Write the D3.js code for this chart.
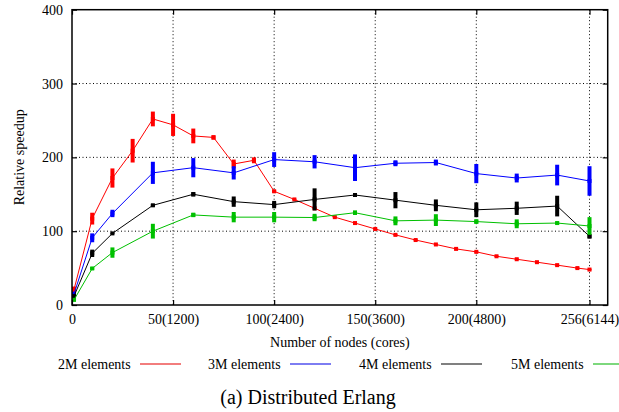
<!DOCTYPE html>
<html>
<head>
<meta charset="utf-8">
<script src="https://cdn.jsdelivr.net/npm/d3@7/dist/d3.min.js"></script>
<style>
  body { margin: 0; background: #fff; }
</style>
</head>
<body>
<svg width="619" height="412"></svg>
<script>

// nodes measured for 3M/4M/5M, 2M was measured every 10 nodes
const nodes = [1, 10, 20, 40, 60, 80, 100, 120, 140, 160, 180, 200, 220, 240, 256];
const nodes2M = [1, 10, 20, 30, 40, 50, 60, 70, 80, 90, 100, 110, 120, 130, 140, 150,
                 160, 170, 180, 190, 200, 210, 220, 230, 240, 250, 256];

const speedup2M = [21, 117, 172, 209, 252, 244, 229, 227, 191, 196, 154, 143, 131, 119, 111, 103,
                   95, 88, 82, 76, 72, 66, 62, 58, 54, 50, 48];
const err2M     = [4, 8, 13, 16, 10, 15, 10, 3, 6, 4, 2, 1, 1, 1, 1, 1,
                   1, 1, 1, 1, 1, 1, 1, 1, 1, 1, 1];

const speedup3M = [15, 91, 124, 179, 186, 179, 197, 194, 186, 192, 193, 178, 172, 176, 168];
const err3M     = [3, 6, 5, 15, 13, 9, 10, 9, 18, 4, 4, 13, 6, 14, 20];

const speedup4M = [12, 70, 97, 135, 150, 140, 136, 143, 149, 142, 135, 129, 131, 134, 93];
const err4M     = [2, 5, 1, 2, 3, 7, 5, 15, 2, 11, 8, 10, 9, 14, 3];

const speedup5M = [7, 49.5, 71, 100, 122, 119, 119, 118.5, 125, 114, 115, 113, 110, 111, 107];
const err5M     = [2, 2, 7, 10, 3, 7, 7, 5, 3, 6, 8, 3, 6, 2, 12];

const xTicks = [0, 50, 100, 150, 200, 256];
const xTickLabels = ['0', '50(1200)', '100(2400)', '150(3600)', '200(4800)', '256(6144)'];
const yTicks = [0, 100, 200, 300, 400];

const seriesNames = ['2M elements', '3M elements', '4M elements', '5M elements'];
const colors = ['#ff0000', '#0000ff', '#000000', '#00c000'];
const legendColors = ['#f27d7d', '#7d7df2', '#808080', '#7dd87d'];

const series = [
    {x: nodes2M, y: speedup2M, e: err2M},
    {x: nodes, y: speedup3M, e: err3M},
    {x: nodes, y: speedup4M, e: err4M},
    {x: nodes, y: speedup5M, e: err5M}
].map((s, i) => ({
    name: seriesNames[i],
    color: colors[i],
    points: s.x.map((n, j) => ({n: n, v: s.y[j], e: s.e[j]}))
}));

const svg = d3.select('svg');
const serif = "'Liberation Serif', 'DejaVu Serif', 'Times New Roman', Times, serif";

const plotLeft = 72, plotRight = 607.7, plotTop = 9.7, plotBottom = 305;

const x = d3.scaleLinear().domain([0, 265]).range([plotLeft, plotRight]);
const y = d3.scaleLinear().domain([0, 400]).range([plotBottom, plotTop]);

// dotted grid
svg.append('g')
    .selectAll('line')
    .data(xTicks.filter(d => d > 0))
    .enter()
    .append('line')
        .attr('x1', d => x(d)).attr('x2', d => x(d))
        .attr('y1', plotTop).attr('y2', plotBottom)
        .attr('stroke', '#000')
        .attr('stroke-width', 1)
        .attr('stroke-dasharray', '1,2.5');

svg.append('g')
    .selectAll('line')
    .data(yTicks.filter(d => d > 0 && d < 400))
    .enter()
    .append('line')
        .attr('x1', plotLeft).attr('x2', plotRight)
        .attr('y1', d => y(d)).attr('y2', d => y(d))
        .attr('stroke', '#000')
        .attr('stroke-width', 1)
        .attr('stroke-dasharray', '1,2.5');

// lines
const line = d3.line()
    .x(d => x(d.n))
    .y(d => y(d.v));

const groups = svg.selectAll('g.series')
    .data(series)
    .enter()
    .append('g')
        .attr('class', 'series');

groups.append('path')
    .attr('d', d => line(d.points))
    .attr('fill', 'none')
    .attr('stroke', d => d.color)
    .attr('stroke-width', 1);

// error bars + point markers
groups.each(function(s) {
    const g = d3.select(this);
    g.selectAll('line.err')
        .data(s.points)
        .enter()
        .append('line')
            .attr('class', 'err')
            .attr('x1', d => x(d.n)).attr('x2', d => x(d.n))
            .attr('y1', d => y(d.v - d.e)).attr('y2', d => y(d.v + d.e))
            .attr('stroke', s.color)
            .attr('stroke-width', 4);

    g.selectAll('rect')
        .data(s.points)
        .enter()
        .append('rect')
            .attr('x', d => x(d.n) - 2)
            .attr('y', d => y(d.v) - 2)
            .attr('width', 4)
            .attr('height', 4)
            .attr('fill', s.color);
});

// axes, ticks pointing inward
const xAxis = d3.axisBottom(x)
    .tickValues(xTicks)
    .tickFormat((d, i) => xTickLabels[i])
    .tickSizeInner(-5)
    .tickSizeOuter(0)
    .tickPadding(9);

const yAxis = d3.axisLeft(y)
    .tickValues(yTicks)
    .tickSizeInner(-5)
    .tickSizeOuter(0)
    .tickPadding(9);

svg.append('g')
    .attr('transform', `translate(0,${plotBottom})`)
    .call(xAxis);

svg.append('g')
    .attr('transform', `translate(${plotLeft},0)`)
    .call(yAxis);

// mirrored ticks at top and right
svg.append('g')
    .attr('transform', `translate(0,${plotTop})`)
    .call(d3.axisTop(x).tickValues(xTicks).tickSizeInner(-5).tickSizeOuter(0).tickFormat(''));
svg.append('g')
    .attr('transform', `translate(${plotRight},0)`)
    .call(d3.axisRight(y).tickValues(yTicks).tickSizeInner(-5).tickSizeOuter(0).tickFormat(''));

svg.selectAll('.domain').remove();
svg.selectAll('g').attr('font-family', serif);
svg.selectAll('.tick line').attr('stroke', '#000').attr('stroke-width', 1.2);
svg.selectAll('.tick text')
    .style('font-family', serif)
    .attr('font-size', 14)
    .attr('fill', '#000');

// frame
svg.append('rect')
    .attr('x', plotLeft).attr('y', plotTop)
    .attr('width', plotRight - plotLeft).attr('height', plotBottom - plotTop)
    .attr('fill', 'none')
    .attr('stroke', '#000')
    .attr('stroke-width', 1.5);

// axis titles
svg.append('text')
    .attr('x', (plotLeft + plotRight) / 2)
    .attr('y', 347)
    .attr('text-anchor', 'middle')
    .style('font-family', serif)
    .attr('font-size', 14)
    .text('Number of nodes (cores)');

svg.append('text')
    .attr('transform', `translate(24,${(plotTop + plotBottom) / 2}) rotate(-90)`)
    .attr('text-anchor', 'middle')
    .style('font-family', serif)
    .attr('font-size', 14)
    .text('Relative speedup');

// legend
const legendX = [58, 208, 359, 511];
const legend = svg.selectAll('g.legend')
    .data(series)
    .enter()
    .append('g')
        .attr('class', 'legend')
        .attr('transform', (d, i) => `translate(${legendX[i]},364)`);

legend.append('text')
    .attr('x', 0)
    .attr('y', 4.5)
    .style('font-family', serif)
    .attr('font-size', 14)
    .text(d => d.name);

legend.append('line')
    .attr('x1', 82).attr('x2', 123)
    .attr('y1', 0).attr('y2', 0)
    .attr('stroke', (d, i) => legendColors[i])
    .attr('stroke-width', 2);

// caption
svg.append('text')
    .attr('x', 308)
    .attr('y', 404)
    .attr('text-anchor', 'middle')
    .style('font-family', serif)
    .attr('font-size', 20)
    .text('(a)  Distributed Erlang');

</script>
</body>
</html>
